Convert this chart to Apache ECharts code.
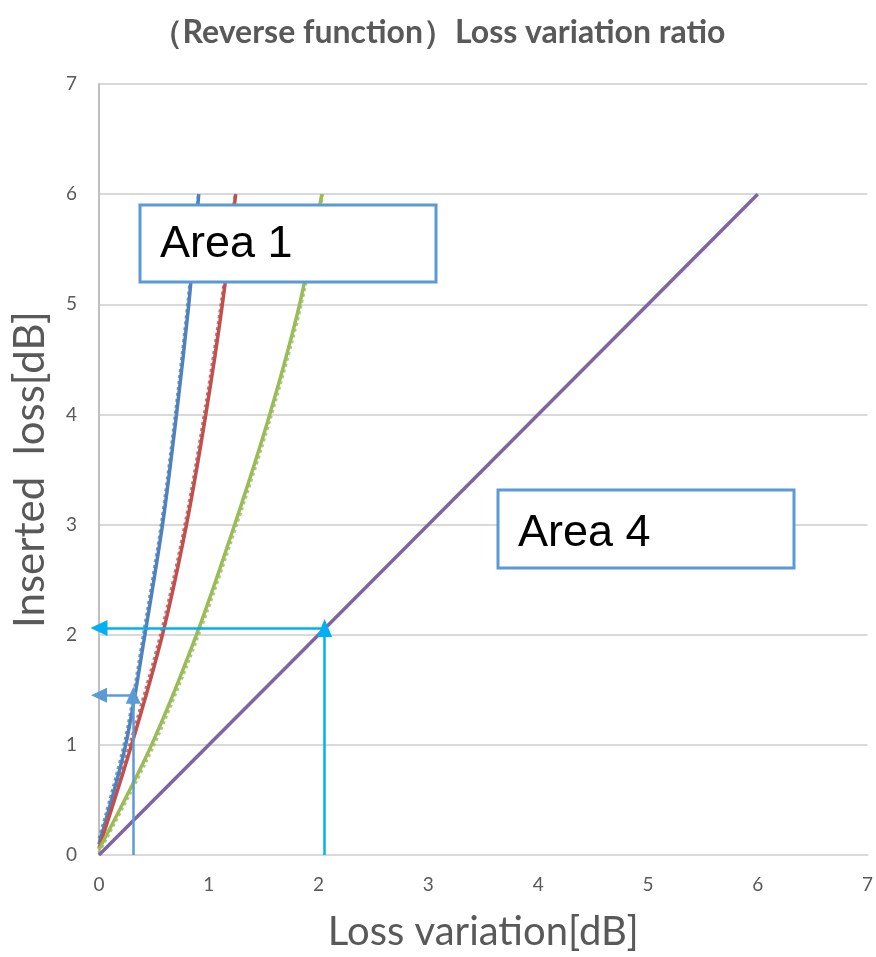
<!DOCTYPE html>
<html>
<head>
<meta charset="utf-8">
<script src="https://cdn.jsdelivr.net/npm/echarts@6/dist/echarts.min.js"></script>
<style>
  html, body { margin: 0; padding: 0; background: #fff; }
  #chart { width: 876px; height: 957px; }
</style>
</head>
<body>
<div id="chart"></div>
<script>
// Axis ticks
const xTicks = [0, 1, 2, 3, 4, 5, 6, 7];
const yTicks = [0, 1, 2, 3, 4, 5, 6, 7];

// Measured curves: [loss variation, inserted loss]
const curveBlue = [[0, 0.1], [0.243, 1], [0.418, 2], [0.579, 3], [0.706, 4], [0.818, 5], [0.909, 6]];
const curveRed = [[0, 0.06], [0.297, 1], [0.578, 2], [0.797, 3], [0.973, 4], [1.124, 5], [1.245, 6]];
const curveGreen = [[0, 0.05], [0.479, 1], [0.888, 2], [1.236, 3], [1.555, 4], [1.827, 5], [2.03, 6]];
const curvePurple = [[0, 0], [6, 6]];

// Fitted approximations (dotted)
const fitBlue = [[0, 0.15], [0.236, 1.04], [0.41, 2.04], [0.572, 3.04], [0.70, 4.05], [0.812, 5.05], [0.905, 6]];
const fitRed = [[0, 0.1], [0.29, 1.04], [0.57, 2.04], [0.79, 3.04], [0.966, 4.05], [1.118, 5.05], [1.24, 6]];
const fitGreen = [[0, 0.02], [0.488, 0.97], [0.897, 1.97], [1.245, 2.97], [1.564, 3.97], [1.836, 4.97], [2.04, 6]];

// Reading guides: [start, end]
const guideUp1 = [[2.055, 0], [2.055, 2.06]];
const guideLeft1 = [[2.055, 2.06], [0, 2.06]];
const guideUp2 = [[0.312, 0], [0.312, 1.45]];
const guideLeft2 = [[0.312, 1.45], [0, 1.45]];

const TITLE = '（Reverse function）Loss variation ratio';
const X_NAME = 'Loss variation[dB]';
const Y_NAME = 'Inserted  loss[dB]';

const FONT = 'Lato, "Open Sans", "Noto Sans", sans-serif';
const GRAY = '#595959';

function curve(name, data, color) {
  return {
    name, type: 'line', data, smooth: 0.3, symbol: 'none', z: 4,
    lineStyle: { color, width: 3.5 }
  };
}
function fit(name, data, color) {
  return {
    name, type: 'line', data, smooth: 0.3, symbol: 'none', z: 3,
    lineStyle: { color, width: 3, type: 'dotted', opacity: 0.8 }
  };
}
function guide(name, seg, color, headSize) {
  return {
    name, type: 'line', data: [], z: 6, silent: true,
    markLine: {
      silent: true, animation: false,
      symbol: ['none', 'triangle'],
      symbolSize: headSize,
      label: { show: false },
      lineStyle: { color, width: 2.5, type: 'solid' },
      emphasis: { disabled: true },
      data: [[{ coord: seg[0] }, { coord: seg[1] }]]
    }
  };
}

const chart = echarts.init(document.getElementById('chart'), null, { renderer: 'canvas' });

const boxStyle = { fill: '#ffffff', stroke: '#5B9BD5', lineWidth: 3 };
const boxFont = '45px "Liberation Sans", Arial, sans-serif';

chart.setOption({
  animation: false,
  backgroundColor: '#ffffff',
  title: {
    text: TITLE,
    left: 'center',
    top: 12,
    textStyle: { fontFamily: FONT, fontSize: 32, fontWeight: 'bold', color: GRAY }
  },
  grid: { left: 99, right: 7, top: 84, bottom: 100, containLabel: false },
  xAxis: {
    type: 'value', min: xTicks[0], max: xTicks[xTicks.length - 1], interval: 1,
    name: X_NAME, nameLocation: 'middle', nameGap: 57,
    nameTextStyle: { fontFamily: FONT, fontSize: 40, color: GRAY },
    axisLine: { lineStyle: { color: '#d9d9d9', width: 2 } },
    axisTick: { show: false },
    splitLine: { show: false },
    axisLabel: { fontFamily: FONT, fontSize: 19, color: GRAY, margin: 20 }
  },
  yAxis: {
    type: 'value', min: yTicks[0], max: yTicks[yTicks.length - 1], interval: 1,
    name: Y_NAME, nameLocation: 'middle', nameGap: 48,
    nameTextStyle: { fontFamily: FONT, fontSize: 42, color: GRAY },
    axisLine: { show: true, lineStyle: { color: '#bfbfbf', width: 2 } },
    axisTick: { show: false },
    splitLine: { show: true, lineStyle: { color: '#d9d9d9', width: 2 } },
    axisLabel: { fontFamily: FONT, fontSize: 19, color: GRAY, margin: 22 }
  },
  series: [
    fit('Fit 1', fitBlue, '#4F81BD'),
    fit('Fit 2', fitRed, '#C0504D'),
    fit('Fit 3', fitGreen, '#9BBB59'),
    curve('Curve 1', curveBlue, '#4F81BD'),
    curve('Curve 2', curveRed, '#C0504D'),
    curve('Curve 3', curveGreen, '#9BBB59'),
    curve('Curve 4', curvePurple, '#8064A2'),
    guide('Guide up A', guideUp1, '#00B0F0', [15, 18]),
    guide('Guide left A', guideLeft1, '#00B0F0', [16, 17]),
    guide('Guide up B', guideUp2, '#5B9BD5', [15, 17]),
    guide('Guide left B', guideLeft2, '#5B9BD5', [15, 16])
  ],
  graphic: [
    { type: 'rect', z: 100, zlevel: 1, shape: { x: 140, y: 205, width: 296, height: 77 }, style: boxStyle },
    { type: 'text', z: 101, zlevel: 1, x: 160, y: 245,
      style: { text: 'Area 1', font: boxFont, fill: '#000000', verticalAlign: 'middle' } },
    { type: 'rect', z: 100, zlevel: 1, shape: { x: 498, y: 490, width: 296, height: 78 }, style: boxStyle },
    { type: 'text', z: 101, zlevel: 1, x: 518, y: 534,
      style: { text: 'Area 4', font: boxFont, fill: '#000000', verticalAlign: 'middle' } }
  ]
});
</script>
</body>
</html>
